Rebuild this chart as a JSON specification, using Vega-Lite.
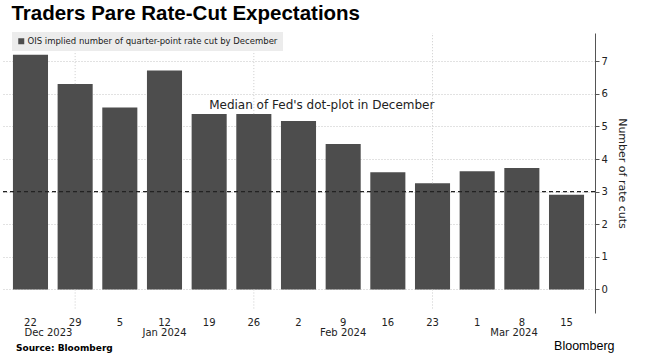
{
  "$schema": "https://vega.github.io/schema/vega-lite/v6.json",
  "width": 593,
  "height": 280,
  "autosize": {"type": "none"},
  "padding": {"left": 2, "top": 33, "right": 53, "bottom": 46},
  "background": "white",
  "title": {
    "text": "Traders Pare Rate-Cut Expectations",
    "anchor": "start",
    "font": "Liberation Sans",
    "fontSize": 20.5,
    "fontWeight": "bold",
    "color": "#000000",
    "offset": 8,
    "dx": 10
  },
  "config": {
    "view": {"stroke": null},
    "font": "DejaVu Sans",
    "axisY": {"tickCount": 10, "labelOverlap": false}
  },
  "datasets": {
    "cuts": [
      {"week": "2023-12-22", "cuts": 7.2, "series": "OIS implied number of quarter-point rate cut by December"},
      {"week": "2023-12-29", "cuts": 6.30, "series": "OIS implied number of quarter-point rate cut by December"},
      {"week": "2024-01-05", "cuts": 5.58, "series": "OIS implied number of quarter-point rate cut by December"},
      {"week": "2024-01-12", "cuts": 6.72, "series": "OIS implied number of quarter-point rate cut by December"},
      {"week": "2024-01-19", "cuts": 5.38, "series": "OIS implied number of quarter-point rate cut by December"},
      {"week": "2024-01-26", "cuts": 5.38, "series": "OIS implied number of quarter-point rate cut by December"},
      {"week": "2024-02-02", "cuts": 5.17, "series": "OIS implied number of quarter-point rate cut by December"},
      {"week": "2024-02-09", "cuts": 4.46, "series": "OIS implied number of quarter-point rate cut by December"},
      {"week": "2024-02-16", "cuts": 3.60, "series": "OIS implied number of quarter-point rate cut by December"},
      {"week": "2024-02-23", "cuts": 3.26, "series": "OIS implied number of quarter-point rate cut by December"},
      {"week": "2024-03-01", "cuts": 3.63, "series": "OIS implied number of quarter-point rate cut by December"},
      {"week": "2024-03-08", "cuts": 3.73, "series": "OIS implied number of quarter-point rate cut by December"},
      {"week": "2024-03-15", "cuts": 2.91, "series": "OIS implied number of quarter-point rate cut by December"}
    ],
    "monthsMid": [
      {"week": "2024-01-12", "label": "Jan 2024"},
      {"week": "2024-02-09", "label": "Feb 2024"}
    ],
    "monthDec": [{"week": "2023-12-22", "label": "Dec 2023"}],
    "monthMar": [{"week": "2024-03-08", "label": "Mar 2024"}]
  },
  "layer": [
    {
      "data": {"name": "cuts"},
      "mark": {"type": "bar"},
      "encoding": {
        "x": {
          "field": "week",
          "type": "nominal",
          "sort": "ascending",
          "scale": {"paddingInner": 0.215, "paddingOuter": 0.245},
          "axis": {
            "title": null,
            "labelExpr": "toNumber(split(datum.value, '-')[2]) + ''",
            "labelAngle": 0,
            "domain": false,
            "ticks": false,
            "grid": false,
            "labelFont": "DejaVu Sans",
            "labelFontSize": 10,
            "labelColor": "#222222",
            "labelPadding": 4
          }
        },
        "y": {
          "field": "cuts",
          "type": "quantitative",
          "scale": {"domain": [-0.721, 7.868], "nice": false, "zero": false},
          "axis": {
            "orient": "right",
            "title": "Number of rate cuts",
            "titleFont": "DejaVu Sans",
            "titleFontSize": 11,
            "titleFontWeight": "normal",
            "titleColor": "#222222",
            "titlePadding": 9,
            "tickCount": 10,
            "labelOverlap": false,
            "labelFont": "DejaVu Sans",
            "labelFontSize": 10,
            "labelColor": "#222222",
            "labelPadding": 2,
            "domainColor": "#555555",
            "tickColor": "#555555",
            "tickSize": 4,
            "grid": true,
            "gridColor": "#c4c4c4",
            "gridDash": [1, 2]
          }
        },
        "color": {
          "field": "series",
          "type": "nominal",
          "scale": {"range": ["#4d4d4d"]},
          "legend": {
            "orient": "none",
            "legendX": 10,
            "legendY": -1,
            "title": null,
            "fillColor": "#ececec",
            "padding": 5,
            "symbolType": "square",
            "symbolSize": 36,
            "symbolStrokeWidth": 0,
            "labelFont": "DejaVu Sans",
            "labelFontSize": 8.5,
            "labelColor": "#222222",
            "labelOffset": 2,
            "labelLimit": 400
          }
        }
      }
    },
    {
      "data": {"name": "cuts"},
      "transform": [{"filter": {"field": "week", "oneOf": ["2023-12-29", "2024-01-26", "2024-02-23"]}}],
      "mark": {"type": "rule", "color": "#cccccc", "strokeDash": [1, 2], "strokeWidth": 1},
      "encoding": {
        "x": {"field": "week", "type": "nominal"},
        "y": {"field": "cuts", "type": "quantitative"},
        "y2": {"datum": 7.868}
      }
    },
    {
      "data": {"name": "cuts"},
      "transform": [{"filter": {"field": "week", "oneOf": ["2023-12-29", "2024-01-26", "2024-02-23"]}}],
      "mark": {"type": "rule", "color": "#cccccc", "strokeDash": [1, 2], "strokeWidth": 1},
      "encoding": {
        "x": {"field": "week", "type": "nominal"},
        "y": {"datum": 0, "type": "quantitative"},
        "y2": {"datum": -0.6}
      }
    },
    {
      "data": {"values": [{}]},
      "mark": {"type": "rule", "color": "#222222", "strokeDash": [4, 3], "strokeWidth": 1.2},
      "encoding": {"y": {"datum": 3, "type": "quantitative"}}
    },
    {
      "data": {"values": [{"label": "Median of Fed's dot-plot in December"}]},
      "mark": {"type": "text", "align": "left", "baseline": "middle", "font": "DejaVu Sans", "fontSize": 12, "color": "#222222"},
      "encoding": {
        "x": {"datum": "2024-01-19", "type": "nominal"},
        "y": {"datum": 5.66, "type": "quantitative"},
        "text": {"field": "label"}
      }
    },
    {
      "data": {"name": "monthsMid"},
      "mark": {"type": "text", "align": "center", "baseline": "middle", "font": "DejaVu Sans", "fontSize": 10, "color": "#222222"},
      "encoding": {
        "x": {"field": "week", "type": "nominal"},
        "y": {"datum": -1.334, "type": "quantitative"},
        "text": {"field": "label"}
      }
    },
    {
      "data": {"name": "monthDec"},
      "mark": {"type": "text", "align": "left", "dx": -6, "baseline": "middle", "font": "DejaVu Sans", "fontSize": 10, "color": "#222222"},
      "encoding": {
        "x": {"field": "week", "type": "nominal"},
        "y": {"datum": -1.334, "type": "quantitative"},
        "text": {"field": "label"}
      }
    },
    {
      "data": {"name": "monthMar"},
      "mark": {"type": "text", "align": "right", "dx": 16, "baseline": "middle", "font": "DejaVu Sans", "fontSize": 10, "color": "#222222"},
      "encoding": {
        "x": {"field": "week", "type": "nominal"},
        "y": {"datum": -1.334, "type": "quantitative"},
        "text": {"field": "label"}
      }
    },
    {
      "data": {"values": [{"week": "2023-12-22", "label": "Source: Bloomberg"}]},
      "mark": {"type": "text", "align": "left", "dx": -14.5, "baseline": "middle", "font": "DejaVu Sans", "fontSize": 9, "fontWeight": "bold", "color": "#000000"},
      "encoding": {
        "x": {"field": "week", "type": "nominal"},
        "y": {"datum": -1.78, "type": "quantitative"},
        "text": {"field": "label"}
      }
    },
    {
      "data": {"values": [{"week": "2024-03-15", "label": "Bloomberg"}]},
      "mark": {"type": "text", "align": "right", "dx": 48, "baseline": "middle", "font": "Liberation Sans", "fontSize": 12.5, "color": "#000000"},
      "encoding": {
        "x": {"field": "week", "type": "nominal"},
        "y": {"datum": -1.733, "type": "quantitative"},
        "text": {"field": "label"}
      }
    }
  ]
}
